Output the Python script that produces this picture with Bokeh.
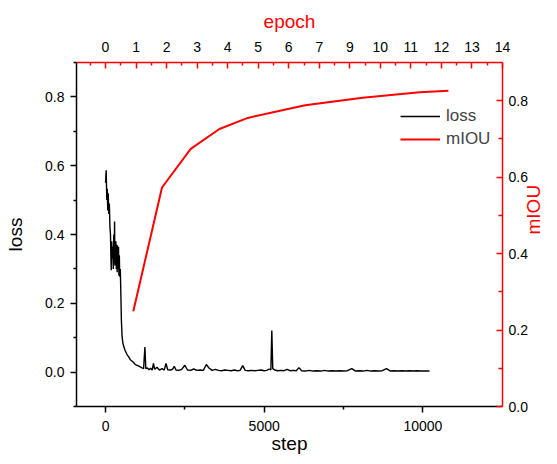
import math
from bokeh.plotting import figure
from bokeh.models import (LinearAxis, Range1d, FixedTicker, NumeralTickFormatter,
                          Legend, LegendItem)
from bokeh.embed import file_html
from bokeh.resources import INLINE

# ---------------- data ----------------
loss_steps = [
    0, 20, 40, 55, 70, 85, 100, 120, 140, 156,
    170, 180, 195, 210, 228, 245, 260, 275, 285, 295,
    312, 325, 340, 355, 366, 380, 395, 410, 420, 435,
    447, 465, 480, 500, 522, 545, 572, 620, 678, 730,
    781, 860, 938, 1020, 1094, 1150, 1200, 1240, 1270, 1320,
    1370, 1420, 1470, 1510, 1550, 1620, 1700, 1780, 1850, 1906,
    1960, 2050, 2120, 2166, 2220, 2300, 2400, 2500, 2580, 2680,
    2780, 2880, 2980, 3080, 3177, 3260, 3360, 3460, 3560, 3660,
    3760, 3860, 3960, 4060, 4160, 4240, 4323, 4400, 4500, 4600,
    4700, 4800, 4900, 5000, 5080, 5160, 5210, 5240, 5270, 5330,
    5420, 5520, 5620, 5720, 5820, 5920, 6010, 6094, 6180, 6300,
    6420, 6540, 6660, 6780, 6900, 7020, 7140, 7260, 7380, 7500,
    7620, 7760, 7880, 8000, 8120, 8240, 8360, 8480, 8600, 8720,
    8854, 8980, 9100, 9220, 9340, 9460, 9580, 9700, 9820, 9940,
    10060, 10208,
]
loss_values = [
    0.55, 0.587, 0.50, 0.533, 0.47, 0.52, 0.46, 0.49, 0.42, 0.40,
    0.33, 0.296, 0.38, 0.33, 0.364, 0.30, 0.40, 0.34, 0.438, 0.31,
    0.325, 0.38, 0.30, 0.37, 0.29, 0.368, 0.30, 0.364, 0.28, 0.34,
    0.277, 0.30, 0.24, 0.15, 0.103, 0.085, 0.075, 0.062, 0.051, 0.044,
    0.036, 0.030, 0.022, 0.019, 0.015, 0.012, 0.010, 0.073, 0.010, 0.012,
    0.007, 0.011, 0.006, 0.025, 0.008, 0.014, 0.006, 0.010, 0.006, 0.025,
    0.007, 0.006, 0.009, 0.017, 0.006, 0.005, 0.008, 0.020, 0.006, 0.005,
    0.009, 0.005, 0.006, 0.005, 0.022, 0.012, 0.005, 0.008, 0.005, 0.004,
    0.006, 0.005, 0.004, 0.006, 0.004, 0.005, 0.019, 0.005, 0.004, 0.005,
    0.004, 0.005, 0.006, 0.004, 0.005, 0.009, 0.006, 0.121, 0.010, 0.006,
    0.004, 0.005, 0.004, 0.008, 0.004, 0.005, 0.004, 0.013, 0.004, 0.003,
    0.005, 0.003, 0.004, 0.003, 0.005, 0.003, 0.004, 0.003, 0.004, 0.003,
    0.004, 0.010, 0.003, 0.004, 0.003, 0.005, 0.003, 0.004, 0.003, 0.004,
    0.010, 0.003, 0.004, 0.003, 0.004, 0.003, 0.004, 0.003, 0.004, 0.003,
    0.003, 0.003,
]

# mIOU points, x given as positions on the top (epoch) axis
miou_epochs = [0.91, 1.85, 2.79, 3.73, 4.66, 5.60, 6.54, 7.48, 8.42, 9.35, 10.29, 11.23]
miou_values = [0.249, 0.573, 0.674, 0.726, 0.755, 0.772, 0.788, 0.798, 0.808, 0.815, 0.822, 0.826]

# tick labels
epoch_tick_labels = ["0", "1", "2", "3", "4", "5", "6", "7", "9", "10", "11", "12", "13", "14"]
step_ticks = [0, 5000, 10000]
step_minor_ticks = [2500, 7500]
loss_ticks = [0.0, 0.2, 0.4, 0.6, 0.8]
loss_minor_ticks = [-0.1, 0.1, 0.3, 0.5, 0.7, 0.9]
miou_ticks = [0.0, 0.2, 0.4, 0.6, 0.8]
miou_minor_ticks = [0.1, 0.3, 0.5, 0.7]

# ---------------- figure ----------------
FONT = "Liberation Sans"
RED = "#ff0000"

p = figure(width=557, height=464, output_backend="svg", toolbar_location=None,
           x_range=Range1d(-915, 12510), y_range=Range1d(-0.1, 0.9),
           min_border_left=76, min_border_right=52, min_border_top=62, min_border_bottom=58,
           background_fill_color="white", border_fill_color="white",
           outline_line_color=None)
p.grid.visible = False
p.extra_x_ranges = {"epoch": Range1d(-0.95, 13.0)}
p.extra_y_ranges = {"miou": Range1d(0.0, 0.9)}


def style(ax, color, tin, tout, min_in, min_out, standoff):
    ax.axis_line_color = color
    ax.axis_line_width = 1.5
    ax.major_tick_line_color = color
    ax.major_tick_line_width = 1.5
    ax.minor_tick_line_color = color
    ax.minor_tick_line_width = 1.5
    ax.major_tick_in = tin
    ax.major_tick_out = tout
    ax.minor_tick_in = min_in
    ax.minor_tick_out = min_out
    ax.major_label_text_font = FONT
    ax.major_label_text_font_size = "14px"
    ax.major_label_text_color = "black"
    ax.major_label_standoff = standoff
    ax.axis_label_text_font = FONT
    ax.axis_label_text_font_size = "19px"
    ax.axis_label_text_font_style = "normal"


# bottom axis (step)
xa = p.xaxis[0]
xa.ticker = FixedTicker(ticks=step_ticks, minor_ticks=step_minor_ticks)
xa.formatter = NumeralTickFormatter(format="0")
style(xa, "black", 0, 6, 0, 3, 8)
xa.axis_label = "step"
xa.axis_label_text_color = "black"
xa.axis_label_standoff = -1

# left axis (loss)
ya = p.yaxis[0]
ya.ticker = FixedTicker(ticks=loss_ticks, minor_ticks=loss_minor_ticks)
ya.formatter = NumeralTickFormatter(format="0.0")
style(ya, "black", 0, 6, 0, 3, 6)
ya.axis_label = "loss"
ya.axis_label_text_color = "black"
ya.axis_label_standoff = 16

# top axis (epoch)
ta = LinearAxis(x_range_name="epoch")
ta.ticker = FixedTicker(ticks=list(range(len(epoch_tick_labels))),
                        minor_ticks=[i - 0.5 for i in range(len(epoch_tick_labels))])
ta.major_label_overrides = {i: lbl for i, lbl in enumerate(epoch_tick_labels)}
style(ta, RED, 6, 0, 3, 0, 11)
ta.axis_label = "epoch"
ta.axis_label_text_color = RED
ta.axis_label_standoff = 7
p.add_layout(ta, "above")

# right axis (mIOU)
ra = LinearAxis(y_range_name="miou")
ra.ticker = FixedTicker(ticks=miou_ticks, minor_ticks=miou_minor_ticks)
ra.formatter = NumeralTickFormatter(format="0.0")
style(ra, RED, 6, 0, 4, 0, 6)
ra.axis_label = "mIOU"
ra.axis_label_text_color = RED
ra.axis_label_standoff = 3
ra.axis_label_orientation = math.pi / 2
p.add_layout(ra, "right")

# data
r_loss = p.line(loss_steps, loss_values, line_color="black", line_width=1.4)
r_miou = p.line(miou_epochs, miou_values, line_color=RED, line_width=2,
                x_range_name="epoch", y_range_name="miou")

legend = Legend(items=[LegendItem(label="loss", renderers=[r_loss]),
                       LegendItem(label="mIOU", renderers=[r_miou])],
                location=(324, 257), padding=0, margin=0, spacing=3,
                glyph_width=40, glyph_height=20, label_height=20, label_standoff=6,
                label_text_font=FONT, label_text_font_size="17px",
                border_line_alpha=0, background_fill_alpha=0)
p.add_layout(legend)

open("out.html", "w").write(file_html(p, INLINE))
